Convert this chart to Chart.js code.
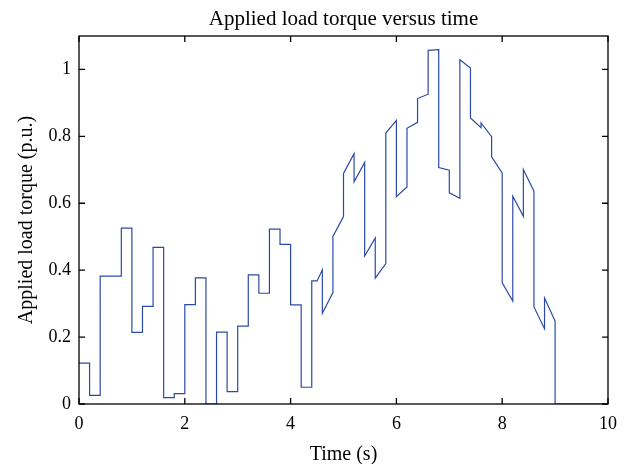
<!DOCTYPE html>
<html>
<head>
<meta charset="utf-8">
<script src="https://cdn.jsdelivr.net/npm/chart.js@4/dist/chart.umd.min.js"></script>
<style>
  html, body { margin: 0; padding: 0; background: #fff; }
  #wrap { width: 629px; height: 464px; }
</style>
</head>
<body>
<div id="wrap"><canvas id="chart" width="629" height="464"></canvas></div>
<script>
// vertices of the torque profile
const timeS = [0, 0.2, 0.2, 0.4, 0.4, 0.8, 0.8, 1.0, 1.0, 1.2, 1.2, 1.4, 1.4, 1.6, 1.6, 1.8, 1.8, 2.0,
  2.0, 2.2, 2.2, 2.4, 2.4, 2.6, 2.6, 2.8, 2.8, 3.0, 3.0, 3.2, 3.2, 3.4, 3.4, 3.6, 3.6, 3.8, 3.8, 4.0,
  4.0, 4.2, 4.2, 4.4, 4.4, 4.5, 4.6, 4.6, 4.8, 4.8, 5.0, 5.0, 5.2, 5.2, 5.4, 5.4, 5.6, 5.6, 5.8, 5.8,
  6.0, 6.0, 6.2, 6.2, 6.4, 6.4, 6.6, 6.6, 6.8, 6.8, 7.0, 7.0, 7.2, 7.2, 7.4, 7.4, 7.6, 7.6, 7.8, 7.8,
  8.0, 8.0, 8.2, 8.2, 8.4, 8.4, 8.6, 8.6, 8.8, 8.8, 9.0, 9.0, 10];
const torquePU = [0.122, 0.122, 0.026, 0.026, 0.382, 0.382, 0.526, 0.526, 0.214, 0.214, 0.292, 0.292,
  0.468, 0.468, 0.019, 0.019, 0.031, 0.031, 0.297, 0.297, 0.377, 0.377, 0, 0, 0.215, 0.215, 0.037, 0.037,
  0.233, 0.233, 0.386, 0.386, 0.331, 0.331, 0.523, 0.523, 0.477, 0.477, 0.296, 0.296, 0.05, 0.05,
  0.368, 0.368, 0.401, 0.271, 0.333, 0.501, 0.56, 0.689, 0.748, 0.664, 0.722, 0.442, 0.496, 0.376,
  0.42, 0.81, 0.848, 0.62, 0.649, 0.824, 0.842, 0.913, 0.926, 1.057, 1.059, 0.707, 0.699, 0.631,
  0.615, 1.029, 1.004, 0.855, 0.826, 0.84, 0.799, 0.739, 0.691, 0.362, 0.308, 0.621, 0.561, 0.701,
  0.636, 0.29, 0.225, 0.317, 0.248, 0, 0];

const xTicks = [0, 2, 4, 6, 8, 10];
const yTicks = [0, 0.2, 0.4, 0.6, 0.8, 1];

const serif = '"Liberation Serif", "DejaVu Serif", serif';

// matlab style box with inward ticks on all four sides
const boxTicks = {
  id: 'boxTicks',
  afterDraw(chart) {
    const { ctx, chartArea: a, scales: { x, y } } = chart;
    const len = 6;
    ctx.save();
    ctx.strokeStyle = '#000';
    ctx.lineWidth = 1.3;
    ctx.strokeRect(a.left, a.top, a.right - a.left, a.bottom - a.top);
    ctx.beginPath();
    xTicks.forEach(v => {
      const px = x.getPixelForValue(v);
      ctx.moveTo(px, a.bottom); ctx.lineTo(px, a.bottom - len);
      ctx.moveTo(px, a.top); ctx.lineTo(px, a.top + len);
    });
    yTicks.forEach(v => {
      const py = y.getPixelForValue(v);
      ctx.moveTo(a.left, py); ctx.lineTo(a.left + len, py);
      ctx.moveTo(a.right, py); ctx.lineTo(a.right - len, py);
    });
    ctx.stroke();
    ctx.restore();
  }
};

new Chart(document.getElementById('chart'), {
  type: 'line',
  data: {
    datasets: [{
      data: timeS.map((t, i) => ({ x: t, y: torquePU[i] })),
      borderColor: '#2a4aa8',
      borderWidth: 1.2,
      pointRadius: 0,
      tension: 0,
      fill: false
    }]
  },
  options: {
    responsive: false,
    animation: false,
    layout: { padding: { left: 0, right: 21, top: 0, bottom: 0 } },
    plugins: {
      legend: { display: false },
      tooltip: { enabled: false },
      title: {
        display: true,
        fullSize: false,
        text: 'Applied load torque versus time',
        color: '#000',
        font: { family: serif, size: 21, weight: 'normal' },
        padding: { top: 7, bottom: 3.8 }
      }
    },
    scales: {
      x: {
        type: 'linear',
        min: 0, max: 10,
        afterBuildTicks: s => { s.ticks = xTicks.map(v => ({ value: v })); },
        afterFit: s => { s.height = 60; },
        grid: { display: false, drawTicks: false },
        border: { display: false },
        ticks: { color: '#000', font: { family: serif, size: 18 }, padding: 9, maxRotation: 0 },
        title: {
          display: true, text: 'Time (s)', color: '#000',
          font: { family: serif, size: 20 }, padding: { top: 0, bottom: -3 }
        }
      },
      y: {
        type: 'linear',
        min: 0, max: 1.1,
        afterBuildTicks: s => { s.ticks = yTicks.map(v => ({ value: v })); },
        afterFit: s => { s.width = 79; },
        grid: { display: false, drawTicks: false },
        border: { display: false },
        ticks: {
          color: '#000', font: { family: serif, size: 18 }, padding: 8,
          callback: v => String(v)
        },
        title: {
          display: true, text: 'Applied load torque (p.u.)', color: '#000',
          font: { family: serif, size: 20 }, padding: { top: 15, bottom: 0 }
        }
      }
    }
  },
  plugins: [boxTicks]
});
</script>
</body>
</html>
